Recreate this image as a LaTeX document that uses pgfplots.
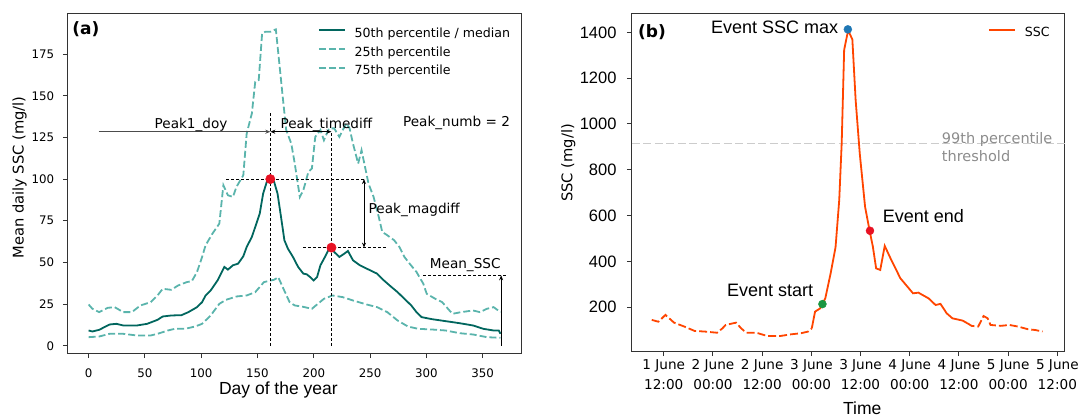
\documentclass[border=0pt]{standalone}
\usepackage{fontspec}
\setmainfont{DejaVu Sans}
\newfontfamily\arialf{Liberation Sans}
\usepackage{pgfplots}
\pgfplotsset{compat=1.18}
\usetikzlibrary{arrows.meta}

\definecolor{medc}{RGB}{1,102,94}
\definecolor{qc}{RGB}{90,180,172}
\definecolor{ssc}{RGB}{255,69,0}
\definecolor{peakred}{RGB}{232,17,35}
\definecolor{evblue}{RGB}{31,119,180}
\definecolor{evgreen}{RGB}{26,150,65}
\definecolor{thrline}{RGB}{204,204,204}
\definecolor{thrtext}{RGB}{140,140,140}

\pgfplotsset{
  panel/.style={
    scale only axis, clip=false,
    tick align=outside, xtick pos=bottom, ytick pos=left,
    major tick length=5pt,
    every tick/.style={black!80, line width=1pt},
    axis line style={black!80, line width=1pt},
    scaled ticks=false,
    /pgf/number format/assume math mode=true,
    /pgf/number format/1000 sep={},
    legend image code/.code={\draw[#1] (0pt,4pt) -- (26pt,4pt);},
    legend cell align=left,
    legend style={draw=none, fill=none, anchor=north west, row sep=2.8pt,
      font=\fontsize{12.6}{14}\selectfont,
      nodes={inner sep=2pt, text height=9pt, text depth=3pt},
      /tikz/every odd column/.append style={column sep=7pt}},
  },
}

\begin{document}
\begin{tikzpicture}[x=1pt,y=1pt]
\useasboundingbox (0,0) rectangle (1079,416);

% ---------------- panel (a) ----------------
\begin{axis}[panel,
  at={(68pt,63pt)}, anchor=south west, width=453.3pt, height=339pt,
  xmin=-18.3, xmax=384.3, ymin=-4.3, ymax=199,
  xtick={0,50,...,350}, ytick={0,25,...,175},
  tick label style={font=\fontsize{11.8}{13}\selectfont, inner sep=0pt},
  xticklabel style={yshift=-10.5pt},
  yticklabel style={xshift=-8.7pt},
  legend style={at={(axis description cs:0.5442,0.970)}},
]
\addplot[medc, line width=1.8pt] coordinates {
(0,9.2) (3.4,8.6) (9.4,9.6) (18.6,12.8) (24.7,13.2) (30.8,12.2) (42.9,12.2)
(52,13.2) (61.2,15.6) (65.8,17.6) (73.4,18.2) (82.5,18.4) (88.6,20.2)
(96.3,23.2) (100.8,26.2) (103.9,30.2) (108.4,33.2) (114.5,39.2) (120.6,47.3)
(123.7,45.7) (128.2,48.3) (132.8,49.3) (137.4,53.7) (140.4,59.3) (145,65.3)
(149,73.3) (152,79.3) (155,91.3) (158.7,99.3) (161.4,100) (164.8,98.3)
(167.8,91.3) (170.9,77.3) (173.9,63.3) (177,58.3) (181.5,53.3) (186.1,47.3)
(190.7,43.3) (193.7,42.9) (196.8,41.2) (199.8,39.2) (202.9,41.2) (205.9,48.3)
(209.9,53.3) (212.9,57.3) (215.7,58.9) (218.1,56.3) (222.7,53.3) (227.2,55.3)
(230.3,56.9) (234.8,51.3) (240.9,48.3) (247,46.3) (253.1,44.3) (256.2,43.3)
(262.3,39.2) (268.4,35.6) (274.4,32.2) (280.5,28.2) (286.6,24.2) (291.2,20.2)
(295.8,17.2) (304.9,16.0) (317.1,14.8) (329.3,13.6) (341.5,12.2) (350.6,10.2)
(359.7,9.2) (364.3,9.2) (365.8,7.2)
};
\addlegendentry{50th percentile / median}
\addplot[qc, line width=1.8pt, dash pattern=on 7pt off 3pt] coordinates {
(0,5.2) (9.4,5.6) (18.6,7.2) (30.8,7.2) (42.9,6.2) (55.1,6.2) (61.2,7.2)
(70.4,9.2) (76.5,10.2) (85.6,10.2) (94.7,11.6) (100.8,13.2) (108.4,18.2)
(116.1,25.2) (122.1,27.6) (131.3,29.6) (140.4,30.2) (148,32.2) (155.7,38.2)
(161.7,39.2) (164.8,39.6) (168.4,41.2) (172.4,35.2) (178.5,26.2) (183.1,24.2)
(189.2,23.6) (198.3,22.2) (202.9,24.8) (209,28.2) (216.6,30.2) (225.7,29.2)
(234.8,27.2) (247,24.8) (256.2,23.2) (265.3,20.2) (274.4,15.2) (283.6,11.6)
(292.7,10.2) (304.9,9.8) (317.1,9.2) (329.3,7.6) (341.5,6.8) (353.7,5.2)
(365.8,4.8)
};
\addlegendentry{25th percentile}
\addplot[qc, line width=1.8pt, dash pattern=on 7pt off 3pt] coordinates {
(0,24.8) (3.4,22.2) (9.4,20.2) (17.1,22.8) (23.1,23.2) (30.8,20.2) (38.4,20.2)
(46,24.2) (55.1,26.2) (61.2,30.2) (65.8,34.2) (73.4,33.6) (79.5,36.2)
(87.1,38.2) (91.7,38.8) (96.3,44.3) (100.8,53.3) (103.9,60.3) (110,67.3)
(116.1,73.3) (119.7,96.3) (123.7,90.3) (128.2,89.3) (131.3,95.3) (137.4,102.3)
(140.4,127.3) (145,139.4) (148,158.4) (151.1,159.4) (154.1,187.4) (157.2,188.4)
(161.7,188.4) (166.3,189.8) (169.4,169.4) (172.4,149.4) (175.5,129.4)
(180,121.3) (183.1,109.3) (187.6,89.3) (190.7,93.3) (195.2,104.3) (198.3,106.3)
(201.3,125.3) (205.9,129.4) (209,123.3) (213.5,130.4) (218.1,130.4)
(222.7,125.3) (228.8,133.4) (231.8,130.4) (234.8,121.3) (239.4,109.3)
(242.4,117.3) (245.5,107.3) (248.6,97.3) (253.1,89.3) (257.7,77.3) (260.8,68.3)
(265.3,66.3) (271.4,63.3) (276,59.3) (280.5,53.3) (285.1,49.3) (291.2,44.3)
(297.3,37.2) (300.3,31.2) (307.9,28.2) (314,26.2) (323.1,19.2) (330.8,20.2)
(341.5,21.2) (347.5,20.2) (353.7,22.2) (359.7,23.2) (365.8,20.2)
};
\addlegendentry{75th percentile}
\addplot[only marks, mark=*, mark size=4.7pt, peakred, forget plot]
  coordinates {(161.4,100) (215.7,58.9)};

% annotations
\tikzset{dl/.style={black, line width=0.9pt, dash pattern=on 3pt off 2pt}}
\draw[dl] (axis cs:161.4,0) -- (axis cs:161.4,139.4);
\draw[dl] (axis cs:215.7,0) -- (axis cs:215.7,128.4);
\draw[dl] (axis cs:122.1,100) -- (axis cs:246.4,100);
\draw[dl] (axis cs:190.7,58.9) -- (axis cs:264.7,58.9);
\draw[dl] (axis cs:297.3,42.3) -- (axis cs:370.4,42.3);
\draw[black!70, line width=1.2pt, -{Stealth[length=5pt,width=4pt]}]
  (axis cs:8.8,128.4) -- (axis cs:161.4,128.4);
\draw[black, line width=0.9pt, {Stealth[length=5pt,width=4pt]}-{Stealth[length=5pt,width=4pt]}]
  (axis cs:161.4,128.4) -- (axis cs:215.7,128.4);
\draw[black, line width=0.9pt, {Stealth[length=5pt,width=4pt]}-{Stealth[length=5pt,width=4pt]}]
  (axis cs:244.6,100) -- (axis cs:244.6,58.9);
\draw[black, line width=0.9pt, -{Stealth[length=5pt,width=4pt]}]
  (axis cs:366.4,0) -- (axis cs:366.4,42.3);
\tikzset{ann/.style={font=\fontsize{13.6}{15}\selectfont, inner sep=0pt}}
\node[ann, anchor=base] at (axis cs:91,130.4) {Peak1\_doy};
\node[ann, anchor=base] at (axis cs:211.2,130.4) {Peak\_timediff};
\node[ann, anchor=base] at (axis cs:326.8,131.8) {Peak\_numb = 2};
\node[ann, anchor=base west] at (axis cs:248.6,79.3) {Peak\_magdiff};
\node[ann, anchor=base] at (axis cs:334.5,46.3) {Mean\_SSC};
\end{axis}

% ---------------- panel (b) ----------------
\begin{axis}[panel,
  at={(631.8pt,65pt)}, anchor=south west, width=432.9pt, height=337pt,
  xmin=4.2, xmax=109.8, ymin=9.3, ymax=1480,
  xtick={12,24,...,108},
  xticklabels={{1 June\\12:00},{2 June\\00:00},{2 June\\12:00},{3 June\\00:00},
    {3 June\\12:00},{4 June\\00:00},{4 June\\12:00},{5 June\\00:00},{5 June\\12:00}},
  ytick={200,400,...,1400},
  xticklabel style={align=center, inner sep=0pt, yshift=-3pt,
    font=\fontsize{13.6}{20.5}\selectfont},
  yticklabel style={inner sep=0pt, xshift=-10.1pt,
    font=\arialf\fontsize{16.5}{18}\selectfont},
  legend style={at={(axis description cs:0.8154,0.972)}},
]
\addplot[thrline, line width=1.5pt, dash pattern=on 8pt off 3.5pt, forget plot]
  coordinates {(4.2,915) (109.8,915)};
\addplot[ssc, line width=1.8pt] coordinates {
(48.1,108) (48.9,181) (50.2,196) (50.7,215) (51.4,239) (52.7,348) (53.9,462)
(54.8,668) (55.4,916) (56.0,1323) (56.9,1403) (57.0,1413) (57.3,1396)
(58.0,1369) (58.8,1105) (59.8,872) (61.1,639) (62.2,535) (63.0,465) (63.8,370)
(64.8,363) (65.9,468) (67.3,414) (69.7,327) (72.8,261) (74.1,264) (76.6,239)
(78.3,210) (79.5,215) (81.0,174) (82.4,152) (84.9,142) (86,131)
};
\addlegendentry{SSC}
\addplot[ssc, line width=1.8pt, dash pattern=on 8pt off 3pt, forget plot] coordinates {
(9.07,145) (10.7,137) (12.4,167) (14.5,133) (17.0,116) (19.5,97) (22.1,94)
(25.0,89) (26.3,108) (27.1,123) (29.6,133) (30.9,108) (32.1,89) (34.6,89)
(37.2,75) (40.5,75) (43.0,82) (45.5,87) (47.2,94) (48.1,108)
};
\addplot[ssc, line width=1.8pt, dash pattern=on 8pt off 3pt, forget plot] coordinates {
(86,131) (87.1,119) (88.7,116) (90.0,162) (91.0,152) (91.7,123) (94.2,119)
(96.3,123) (98.4,116) (100.9,104) (102.6,101) (104.4,94)
};
\addplot[only marks, mark=*, mark size=4pt, evblue, forget plot]
  coordinates {(56.9,1413)};
\addplot[only marks, mark=*, mark size=4pt, evgreen, forget plot]
  coordinates {(50.7,214)};
\addplot[only marks, mark=*, mark size=4pt, peakred, forget plot]
  coordinates {(62.3,534)};
\tikzset{ev/.style={font=\arialf\fontsize{18}{20}\selectfont, inner sep=0pt}}
\node[ev, anchor=east] at (axis cs:54.6,1424) {Event SSC max};
\node[ev, anchor=east] at (axis cs:48.5,275) {Event start};
\node[ev, anchor=west] at (axis cs:65.4,598) {Event end};
\node[anchor=west, align=left, inner sep=0pt, text=thrtext,
  font=\fontsize{14.5}{17.5}\selectfont] at (axis cs:79.8,900)
  {99th percentile\\threshold};
\end{axis}

% panel letters and axis titles
\node[anchor=west, inner sep=0pt, font=\bfseries\fontsize{17}{19}\selectfont]
  at (72.2,386.7) {(a)};
\node[anchor=west, inner sep=0pt, font=\bfseries\fontsize{17}{19}\selectfont]
  at (637.9,384.3) {(b)};
\node[rotate=90, font=\fontsize{14.7}{16}\selectfont] at (19.6,238.5)
  {Mean daily SSC (mg/l)};
\node[font=\arialf\fontsize{17.5}{19}\selectfont] at (278.4,26) {Day of the year};
\node[rotate=90, font=\fontsize{14.7}{16}\selectfont] at (568.2,253) {SSC (mg/l)};
\node[font=\arialf\fontsize{17.5}{19}\selectfont] at (862.3,8) {Time};
\end{tikzpicture}
\end{document}
